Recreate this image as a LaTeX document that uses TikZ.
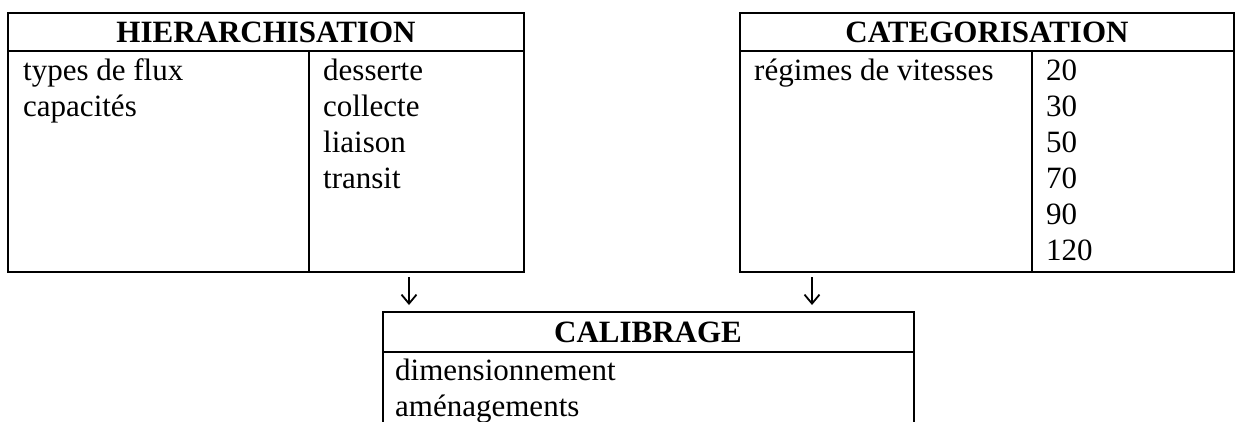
\documentclass[tikz,border=0pt]{standalone}
\usepackage{fontspec}
\setmainfont{Liberation Serif}
\usetikzlibrary{arrows.meta}
\begin{document}
\begin{tikzpicture}[x=1pt,y=-1pt,
  frame/.style={draw, line width=2.6pt},
  txt/.style={anchor=base west, inner sep=0pt, font=\fontsize{31}{36}\selectfont},
  head/.style={anchor=base, inner sep=0pt, font=\fontsize{31}{36}\selectfont\bfseries},
  downarrow/.style={line width=1.8pt, -{Straight Barb[length=9pt, width=15pt, line width=1.8pt]}}]
\useasboundingbox (0,0) rectangle (1236,421);
\clip (0,0) rectangle (1236,421);
% HIERARCHISATION box
\draw[frame] (8,13) rectangle (524,272);
\draw[frame] (8,51) -- (524,51);
\draw[frame] (309,51) -- (309,272);
\node[head] (h) at (266,42) {HIERARCHISATION};
\node[txt] (h1) at (23,80) {types de flux};
\node[txt] (h2) at (23,116) {capacités};
\node[txt] (h3) at (323,80) {desserte};
\node[txt] (h4) at (323,116) {collecte};
\node[txt] (h5) at (323,152) {liaison};
\node[txt] (h6) at (323,188) {transit};
% CATEGORISATION box
\draw[frame] (740,13) rectangle (1234,272);
\draw[frame] (740,51) -- (1234,51);
\draw[frame] (1032,51) -- (1032,272);
\node[head] (c) at (987,42) {CATEGORISATION};
\node[txt] (c1) at (754,80) {régimes de vitesses};
\node[txt] (c2) at (1046,80) {20};
\node[txt] (c3) at (1046,116) {30};
\node[txt] (c4) at (1046,152) {50};
\node[txt] (c5) at (1046,188) {70};
\node[txt] (c6) at (1046,224) {90};
\node[txt] (c7) at (1046,260) {120};
% arrows
\coordinate (a1s) at (409,277);
\coordinate (a1e) at (409,305);
\coordinate (a2s) at (812,277);
\coordinate (a2e) at (812,305);
\draw[downarrow] (a1s) -- (a1e);
\draw[downarrow] (a2s) -- (a2e);
% CALIBRAGE box
\draw[frame] (383,430) -- (383,312) -- (914,312) -- (914,430);
\draw[frame] (383,352) -- (914,352);
\node[head] (k) at (648,342) {CALIBRAGE};
\node[txt] (k1) at (395,380) {dimensionnement};
\node[txt] (k2) at (395,416) {aménagements};
\end{tikzpicture}
\end{document}
